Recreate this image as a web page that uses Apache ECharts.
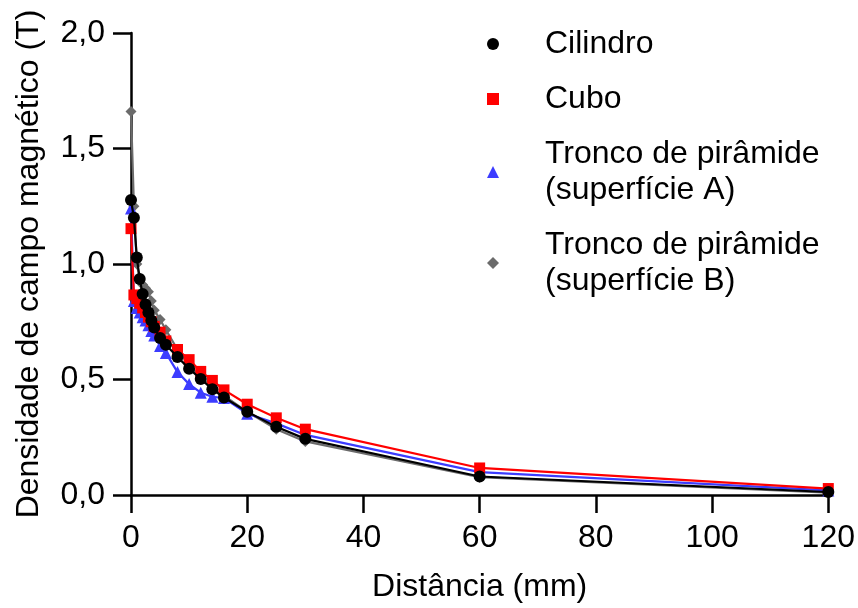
<!DOCTYPE html>
<html>
<head>
<meta charset="utf-8">
<script src="https://cdn.jsdelivr.net/npm/echarts@6/dist/echarts.min.js"></script>
<style>
  html, body { margin: 0; padding: 0; background: #fff; }
  #chart { width: 858px; height: 608px; }
</style>
</head>
<body>
<div id="chart"></div>
<script>
// distances (mm) shared by all series
var distancias = [0, 0.5, 1, 1.5, 2, 2.5, 3, 3.5, 4, 5, 6, 8, 10, 12, 14, 16, 20, 25, 30, 60, 120];

var cilindro = [1.277, 1.20, 1.028, 0.935, 0.87, 0.825, 0.79, 0.755, 0.725, 0.68, 0.65, 0.597, 0.547, 0.502, 0.458, 0.422, 0.36, 0.295, 0.243, 0.08, 0.013];
var cubo     = [1.153, 0.866, 0.85, 0.83, 0.81, 0.79, 0.77, 0.75, 0.73, 0.705, 0.667, 0.63, 0.586, 0.535, 0.496, 0.455, 0.393, 0.334, 0.285, 0.117, 0.028];
var troncoA  = [1.24, 0.84, 0.81, 0.79, 0.77, 0.755, 0.735, 0.71, 0.69, 0.645, 0.615, 0.532, 0.48, 0.443, 0.425, 0.42, 0.352, 0.31, 0.26, 0.099, 0.02];
var troncoB  = [1.66, 1.25, 1.0, 0.94, 0.91, 0.895, 0.88, 0.84, 0.80, 0.76, 0.715, 0.63, 0.56, 0.51, 0.465, 0.43, 0.36, 0.285, 0.232, 0.077, 0.01];

var nomes = ['Cilindro', 'Cubo', 'Tronco de pirâmide\n(superfície A)', 'Tronco de pirâmide\n(superfície B)'];

function pares(vals) {
  return distancias.map(function (d, i) { return [d, vals[i]]; });
}

var fonte = 'Arial, "Liberation Sans", sans-serif';

function serie(nome, vals, cor, simbolo, tam, z) {
  return {
    name: nome,
    type: 'line',
    data: pares(vals),
    symbol: simbolo,
    symbolSize: tam,
    clip: false,
    z: z,
    lineStyle: { color: cor, width: 2.2 },
    itemStyle: { color: cor },
    emphasis: { disabled: true }
  };
}

var myChart = echarts.init(document.getElementById('chart'));

var option = {
  animation: false,
  grid: { left: 131, right: 28, top: 33, bottom: 109, containLabel: false },
  legend: {
    orient: 'vertical',
    left: 482,
    top: 21,
    itemWidth: 12,
    itemHeight: 12,
    itemGap: 19,
    data: [
      { name: nomes[0], icon: 'circle' },
      { name: nomes[1], icon: 'rect' },
      { name: nomes[2], icon: 'triangle' },
      { name: nomes[3], icon: 'diamond' }
    ],
    textStyle: { fontFamily: fonte, fontSize: 32, color: '#000', lineHeight: 36, padding: [0, 0, 0, 41] },
    selectedMode: false
  },
  xAxis: {
    type: 'value',
    min: 0,
    max: 120,
    interval: 20,
    name: 'Distância (mm)',
    nameLocation: 'middle',
    nameGap: 76,
    nameTextStyle: { fontFamily: fonte, fontSize: 32, color: '#000' },
    axisLine: { onZero: false, lineStyle: { color: '#000', width: 2.5 } },
    axisTick: { show: true, length: 18, inside: false, lineStyle: { color: '#000', width: 2.5 } },
    axisLabel: { fontFamily: fonte, fontSize: 32, color: '#000', margin: 27 },
    splitLine: { show: false }
  },
  yAxis: {
    type: 'value',
    min: 0,
    max: 2,
    interval: 0.5,
    name: 'Densidade de campo magnético (T)',
    nameLocation: 'middle',
    nameGap: 86,
    nameTextStyle: { fontFamily: fonte, fontSize: 32, color: '#000' },
    axisLine: { show: true, onZero: false, lineStyle: { color: '#000', width: 2.5 } },
    axisTick: { show: true, length: 18, inside: false, lineStyle: { color: '#000', width: 2.5 } },
    axisLabel: {
      fontFamily: fonte, fontSize: 32, color: '#000', margin: 26,
      formatter: function (v) { return v.toFixed(1).replace('.', ','); }
    },
    splitLine: { show: false }
  },
  series: [
    serie(nomes[3], troncoB, '#6b6b6b', 'diamond', 11, 2),
    serie(nomes[2], troncoA, '#3c3cff', 'triangle', 12, 3),
    serie(nomes[1], cubo, '#ff0000', 'rect', 11, 4),
    serie(nomes[0], cilindro, '#000000', 'circle', 12, 5)
  ]
};

myChart.setOption(option);
</script>
</body>
</html>
